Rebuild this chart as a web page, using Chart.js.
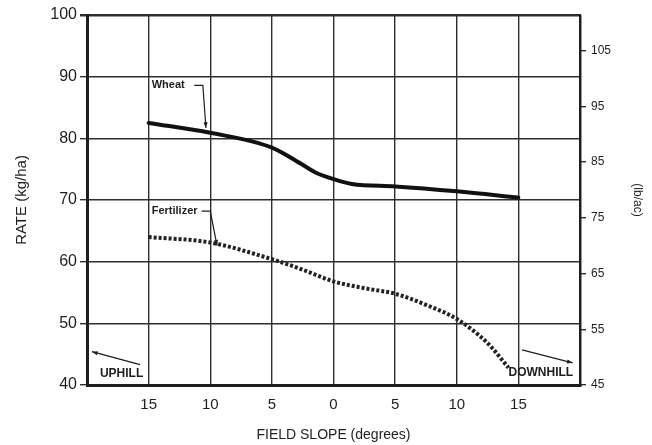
<!DOCTYPE html>
<html>
<head>
<meta charset="utf-8">
<script src="https://cdn.jsdelivr.net/npm/chart.js@4"></script>
<style>
  html, body { margin: 0; padding: 0; background: #fff; }
  #wrap { width: 652px; height: 445px; }
</style>
</head>
<body>
<div id="wrap"><canvas id="slopeChart"></canvas></div>
<script>
// Seeding rate vs field slope (uphill on the left, downhill on the right)
const wheatSlope = [-15, -10, -5, -2.5, -1.5, 0, 1.5, 5, 10, 15];
const wheatRate = [82.5, 80.9, 78.5, 75.7, 74.5, 73.4, 72.6, 72.2, 71.4, 70.4];

const fertSlope = [-15, -10, -5, -2.5, 0, 2.5, 5, 7.5, 10, 12.5, 14.2];
const fertRate = [64.0, 63.1, 60.4, 58.7, 56.8, 55.7, 54.8, 53.0, 50.7, 46.8, 42.8];

const slopeTicks = [-20, -15, -10, -5, 0, 5, 10, 15, 20];
const rateTicks = [40, 50, 60, 70, 80, 90, 100];
const lbTicks = [45, 55, 65, 75, 85, 95, 105];

const ink = '#1e1e1e';
const gridInk = '#2e2e2e';
const font = '"Liberation Sans", Arial, sans-serif';

const toPoints = (xs, ys) => xs.map((x, i) => ({ x: x, y: ys[i] }));

// labels, leader lines and the uphill/downhill arrows
const notes = {
    id: 'notes',
    afterDatasetsDraw(chart) {
        const ctx = chart.ctx;
        const xs = chart.scales.x, ys = chart.scales.y;
        const px = v => xs.getPixelForValue(v);
        const py = v => ys.getPixelForValue(v);

        const arrowHead = (x1, y1, x2, y2, size) => {
            const a = Math.atan2(y2 - y1, x2 - x1);
            ctx.beginPath();
            ctx.moveTo(x2, y2);
            ctx.lineTo(x2 - size * Math.cos(a - 0.35), y2 - size * Math.sin(a - 0.35));
            ctx.lineTo(x2 - size * Math.cos(a + 0.35), y2 - size * Math.sin(a + 0.35));
            ctx.closePath();
            ctx.fill();
        };

        const leader = (pts) => {
            ctx.beginPath();
            pts.forEach((p, i) => {
                if (i === 0) ctx.moveTo(px(p[0]), py(p[1]));
                else ctx.lineTo(px(p[0]), py(p[1]));
            });
            ctx.stroke();
            const a = pts[pts.length - 2], b = pts[pts.length - 1];
            arrowHead(px(a[0]), py(a[1]), px(b[0]), py(b[1]), 6);
        };

        ctx.save();
        ctx.fillStyle = ink;
        ctx.strokeStyle = ink;
        ctx.lineWidth = 1.2;
        ctx.textBaseline = 'middle';
        ctx.textAlign = 'left';

        ctx.font = 'bold 11px ' + font;
        ctx.fillText('Wheat', px(-14.75), py(88.6));
        leader([[-11.3, 88.6], [-10.6, 88.6], [-10.35, 81.7]]);

        ctx.fillText('Fertilizer', px(-14.75), py(68.2));
        leader([[-10.7, 68.2], [-10.0, 68.2], [-9.45, 62.6]]);

        ctx.font = 'bold 12px ' + font;
        ctx.fillText('UPHILL', px(-18.95), py(41.8));
        leader([[-15.7, 43.3], [-19.6, 45.4]]);

        ctx.fillText('DOWNHILL', px(14.2), py(42.0));
        leader([[15.3, 45.7], [19.4, 43.6]]);
        ctx.restore();
    }
};

new Chart(document.getElementById('slopeChart'), {
    type: 'line',
    data: {
        datasets: [{
            label: 'Wheat',
            data: toPoints(wheatSlope, wheatRate),
            borderColor: '#111',
            borderWidth: 4,
            pointRadius: 0,
            cubicInterpolationMode: 'monotone',
            borderCapStyle: 'round',
            fill: false
        }, {
            label: 'Fertilizer',
            data: toPoints(fertSlope, fertRate),
            borderColor: '#222',
            borderWidth: 4,
            borderDash: [3, 2],
            pointRadius: 0,
            cubicInterpolationMode: 'monotone',
            fill: false
        }]
    },
    options: {
        responsive: true,
        maintainAspectRatio: false,
        animation: false,
        layout: { padding: { top: 15, left: 0, right: 0, bottom: 0 } },
        plugins: {
            legend: { display: false },
            tooltip: { enabled: false }
        },
        scales: {
            x: {
                type: 'linear',
                min: -20,
                max: 20,
                afterBuildTicks: s => { s.ticks = slopeTicks.map(v => ({ value: v })); },
                afterFit: s => { s.height = 60; },
                ticks: {
                    color: ink,
                    font: { family: font, size: 15 },
                    padding: 11,
                    maxRotation: 0,
                    autoSkip: false,
                    callback: v => (Math.abs(v) === 20 ? '' : String(Math.abs(v)))
                },
                grid: {
                    color: gridInk,
                    lineWidth: c => (c.tick && Math.abs(c.tick.value) === 20 ? 2.5 : 1.4),
                    drawTicks: false
                },
                border: { color: ink, width: 3 },
                title: {
                    display: true,
                    text: 'FIELD SLOPE (degrees)',
                    color: ink,
                    font: { family: font, size: 14 },
                    padding: { top: 0, bottom: 1 }
                }
            },
            y: {
                position: 'left',
                min: 40,
                max: 100,
                afterBuildTicks: s => { s.ticks = rateTicks.map(v => ({ value: v })); },
                afterFit: s => { s.width = 87; },
                ticks: {
                    color: ink,
                    font: { family: font, size: 16 },
                    padding: 3
                },
                grid: {
                    color: gridInk,
                    lineWidth: c => (c.tick && c.tick.value === 100 ? 2.5 : 1.4),
                    tickLength: 7
                },
                border: { color: ink, width: 3 },
                title: {
                    display: true,
                    text: 'RATE (kg/ha)',
                    color: ink,
                    font: { family: font, size: 15 },
                    padding: { top: 13 }
                }
            },
            y2: {
                position: 'right',
                min: 45,
                max: 111.4,
                afterBuildTicks: s => { s.ticks = lbTicks.map(v => ({ value: v })); },
                afterFit: s => { s.width = 72; },
                ticks: {
                    color: ink,
                    font: { family: font, size: 12 },
                    padding: 5
                },
                grid: {
                    color: gridInk,
                    lineWidth: 1.4,
                    drawOnChartArea: false,
                    tickLength: 6
                },
                border: { color: ink, width: 2 },
                title: {
                    display: true,
                    text: '(lb/ac)',
                    color: ink,
                    font: { family: font, size: 12 },
                    padding: { top: 7 }
                }
            }
        }
    },
    plugins: [notes]
});
</script>
</body>
</html>
